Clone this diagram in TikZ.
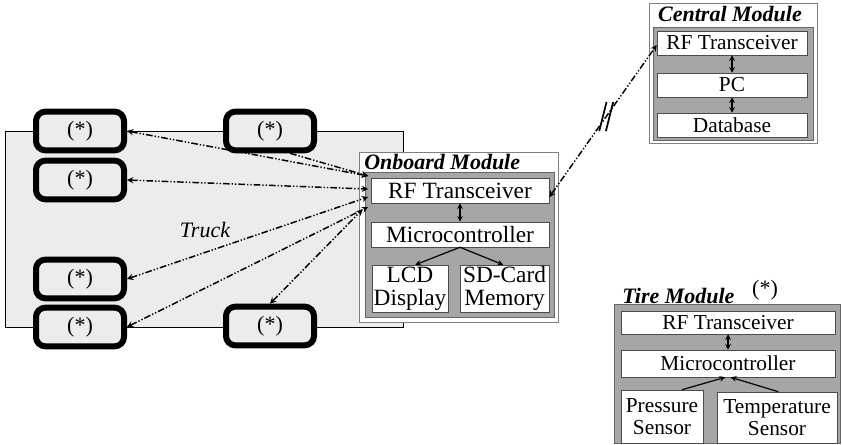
\documentclass[tikz,border=0pt]{standalone}
\usepackage{fontspec}
\setmainfont{Liberation Serif}
\usetikzlibrary{arrows, arrows.meta, calc}

\tikzset{
	tire/.style={draw, rounded corners=7pt, line width=4.5pt, fill=gray!15, minimum width=66pt, minimum height=29pt, inner sep=0pt, font=\fontsize{16.5}{16.5}\selectfont},
	frame/.style={draw=gray, fill=white, thin, inner sep=0pt},
	board/.style={draw=black!60, fill=black!35, thin, inner sep=0pt},
	part/.style={draw=black!70, fill=white, thin, inner sep=0pt, align=center},
	title/.style={inner sep=0pt, font=\fontsize{16.5}{16.5}\selectfont\bfseries\itshape},
	radio/.style={line width=1.1pt, dash pattern=on 5pt off 1.5pt on 1pt off 1.5pt on 1pt off 1.5pt},
	wire/.style={->, line width=0.9pt},
}

\begin{document}
\begin{tikzpicture}[>=stealth, x=0.75pt, y=-0.75pt]
	\useasboundingbox (0,0) rectangle (842,445);
	
	%truck
	\draw[fill=gray!15] (5,131) rectangle (403,327);
	\node[font=\fontsize{16.5}{16.5}\selectfont\itshape] (truck) at (205,230) {Truck};
	
	%tires
	\node[tire] (t1) at (80,131) {(*)};
	\node[tire] (t2) at (80,180) {(*)};
	\node[tire] (t3) at (80,279) {(*)};
	\node[tire] (t4) at (80,327) {(*)};
	\node[tire] (tm) at (270,131) {(*)};
	\node[tire] (bm) at (270,326) {(*)};
	
	%onboard module
	\node[frame, minimum width=149.25pt, minimum height=127.5pt] (onb) at (458.5,237) {};
	\node[board, minimum width=141.75pt, minimum height=108.75pt] (onbin) at (459.5,244.5) {};
	\node[title, anchor=west] (ontitle) at (364,162) {Onboard Module};
	\begin{scope}[every node/.append style={font=\fontsize{17.5}{17.5}\selectfont}]
		\node[part, minimum width=133.5pt, minimum height=18.75pt] (orf) at (460,190.5) {RF Transceiver};
		\node[part, minimum width=133.5pt, minimum height=18.75pt] (omc) at (460,234.5) {Microcontroller};
		\node[part, minimum width=57pt, minimum height=35.25pt] (lcd) at (410,288.5) {LCD\\Display};
		\node[part, minimum width=66.75pt, minimum height=35.25pt] (sd) at (504.5,288.5) {SD-Card\\Memory};
	\end{scope}
	\draw[<->, line width=0.9pt] (orf) -- (omc);
	\draw[wire] (omc.south) -- ([xshift=4pt]lcd.north);
	\draw[wire] (omc.south) -- ([xshift=-1pt]sd.north);
	
	%central module
	\node[frame, minimum width=126pt, minimum height=105pt] (cen) at (733,73) {};
	\node[board, minimum width=120pt, minimum height=84.75pt] (cenin) at (733,83.5) {};
	\node[title] (centitle) at (730,14) {Central Module};
	\begin{scope}[every node/.append style={font=\fontsize{16}{16}\selectfont}]
		\node[part, minimum width=112.5pt, minimum height=18pt] (crf) at (732,43) {RF Transceiver};
		\node[part, minimum width=112.5pt, minimum height=18pt] (pc) at (732,85) {PC};
		\node[part, minimum width=112.5pt, minimum height=18pt] (db) at (732,125) {Database};
	\end{scope}
	\draw[<->, line width=0.9pt] (crf) -- (pc);
	\draw[<->, line width=0.9pt] (pc) -- (db);
	
	%tire module
	\node[board, minimum width=169.5pt, minimum height=104.25pt] (tmod) at (727,373.5) {};
	\node[title, anchor=west] (tmtitle) at (622,296) {Tire Module};
	\node[font=\fontsize{16.5}{16.5}\selectfont, inner sep=0pt] (star) at (765,290) {(*)};
	\begin{scope}[every node/.append style={font=\fontsize{16}{16.5}\selectfont}]
		\node[part, minimum width=160.5pt, minimum height=17.25pt] (trf) at (728,322.5) {RF Transceiver};
		\node[part, minimum width=160.5pt, minimum height=20.25pt] (tmc) at (728,363.5) {Microcontroller};
		\node[part, minimum width=61.5pt, minimum height=39.75pt] (ps) at (662,416.5) {Pressure\\Sensor};
		\node[part, minimum width=90pt, minimum height=38.25pt] (ts) at (777,417.5) {Temperature\\Sensor};
	\end{scope}
	\draw[<->, line width=0.9pt] (trf) -- (tmc);
	\draw[wire] ([xshift=15pt]ps.north) -- ([xshift=-2pt]tmc.south);
	\draw[wire] ([xshift=1pt]ts.north) -- ([xshift=2pt]tmc.south);
	
	%radio links
	\draw[radio, <->] (t1.east) -- ([xshift=-2pt,yshift=10.9pt]orf.west);
	\draw[radio, ->]  (tm.-48)  -- ([xshift=-2pt,yshift=10.9pt]orf.west);
	\draw[radio, <->] (t2.east) -- ([xshift=-2pt,yshift=1.1pt]orf.west);
	\draw[radio, <->] (t3.east) -- ([xshift=-2pt,yshift=-4.9pt]orf.west);
	\draw[radio, <->] (t4.east) -- ([xshift=-2pt,yshift=-12.4pt]orf.west);
	\draw[radio, <->] (bm.north) -- ([xshift=-6pt,yshift=-14pt]orf.west);
	\draw[radio, <->] ([yshift=-5pt]orf.east) -- ([yshift=-1.5pt]crf.west) coordinate[pos=0.53] (brk);
	
	%break
	\draw[line width=1.3pt] ([xshift=-2.5pt]brk) +(-76:15) -- +(104:15);
	\draw[line width=1.3pt] ([xshift=2.5pt]brk) +(-76:15) -- +(104:15);
	
\end{tikzpicture}
\end{document}
